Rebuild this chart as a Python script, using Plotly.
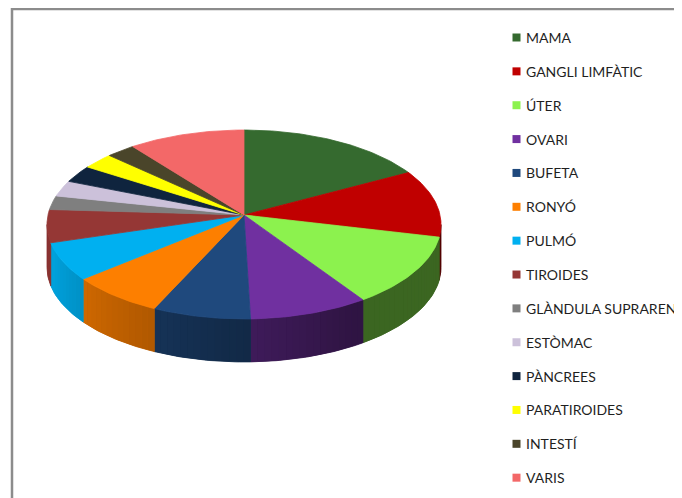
import numpy as np
import plotly.graph_objects as go

# ---- data ----
categories = ["MAMA", "GANGLI LIMFÀTIC", "ÚTER", "OVARI", "BUFETA", "RONYÓ", "PULMÓ",
              "TIROIDES", "GLÀNDULA SUPRARENAL", "ESTÒMAC", "PÀNCREES", "PARATIROIDES",
              "INTESTÍ", "VARIS"]
values = [17.1, 11.6, 11.9, 8.9, 7.3, 7.1, 6.4, 5.6, 2.4, 2.75, 3.0, 2.8, 2.6, 10.5]
colors = ["#356a2f", "#c00000", "#8cf24e", "#7030a0", "#1f497d", "#fd7f00", "#00b0f0",
          "#953735", "#7f7f7f", "#ccc1da", "#0f243e", "#ffff00", "#4a452a", "#f36868"]

# ---- 3D pie geometry (layout, in page-pixel axis units) ----
PAGE_W, PAGE_H = 682, 498
OFF = 8                    # page body margin; axis units = page pixels
W, H = PAGE_W - OFF, PAGE_H - OFF
CX, CY = 244, 215          # apex of the pie top
FX, GY, E = 196, 93.5, 0.1005
DEPTH = 43
VIS0, VIS1 = 95.8, 264.2   # visible part of the outer wall (degrees, clockwise from 12 o'clock)


def proj(theta_deg, drop=0.0):
    t = np.radians(theta_deg)
    s, c = np.sin(t), np.cos(t)
    d = 1 + E * c
    return CX + FX * s / d, CY - GY * c / d + drop


def shade(hexcol, f):
    h = hexcol.lstrip("#")
    r, g, b = (int(h[i:i + 2], 16) for i in (0, 2, 4))
    return "rgb(%d,%d,%d)" % (round(r * f), round(g * f), round(b * f))


def wall_factor(theta):
    return float(np.clip(0.42 + 0.005 * (theta - 150), 0.42, 0.92))


def wall_poly(ta, tb, npts):
    th = np.linspace(ta, tb, npts)
    xt, yt = proj(th)
    xb, yb = proj(th[::-1], DEPTH)
    return (np.concatenate([xt, xb, xt[:1]]), np.concatenate([yt, yb, yt[:1]]))


total = float(sum(values))
ends = np.cumsum(values) / total * 360.0
starts = np.concatenate([[0.0], ends[:-1]])

fig = go.Figure()

# outer walls (drawn first): solid base per slice, then shaded strips
for i, (a0, a1) in enumerate(zip(starts, ends)):
    lo, hi = max(a0, VIS0), min(a1, VIS1)
    if hi <= lo:
        continue
    xs, ys = wall_poly(lo, hi, max(3, int(np.ceil(hi - lo)) + 1))
    base = shade(colors[i], wall_factor((lo + hi) / 2))
    fig.add_trace(go.Scatter(x=xs, y=ys, mode="lines", fill="toself",
                             fillcolor=base, line=dict(color=base, width=0.8),
                             hoverinfo="skip", showlegend=False))
    n = max(1, int(np.ceil((hi - lo) / 2.0)))
    edges = np.linspace(lo, hi, n + 1)
    for ta, tb in zip(edges[:-1], edges[1:]):
        xs, ys = wall_poly(ta, tb, 4)
        col = shade(colors[i], wall_factor((ta + tb) / 2))
        fig.add_trace(go.Scatter(x=xs, y=ys, mode="lines", fill="toself",
                                 fillcolor=col, line=dict(width=0),
                                 hoverinfo="skip", showlegend=False))

# top faces
for i, (a0, a1) in enumerate(zip(starts, ends)):
    th = np.linspace(a0, a1, max(3, int(np.ceil(a1 - a0)) + 1))
    xa, ya = proj(th)
    xs = np.concatenate([[CX], xa, [CX]])
    ys = np.concatenate([[CY], ya, [CY]])
    fig.add_trace(go.Scatter(x=xs, y=ys, mode="lines", fill="toself",
                             fillcolor=colors[i], line=dict(color=colors[i], width=0.8),
                             hoverinfo="skip", showlegend=False, name=categories[i]))

# legend (squares + labels)
LEG_X, LEG_Y0, LEG_DY = 516.5, 37.5, 33.86
leg_y = [LEG_Y0 + k * LEG_DY for k in range(len(categories))]
fig.add_trace(go.Scatter(x=[LEG_X] * len(categories), y=leg_y, mode="markers",
                         marker=dict(symbol="square", size=8, color=colors, line=dict(width=0)),
                         hoverinfo="skip", showlegend=False))
for k, name in enumerate(categories):
    fig.add_annotation(x=LEG_X + 7.5, y=leg_y[k], text=name, showarrow=False,
                       xanchor="left", yanchor="middle", xref="x", yref="y",
                       font=dict(family="Lato", size=14, color="#1f1f1f"))

# chart-area border
fig.add_shape(type="rect", xref="x", yref="y", x0=12, y0=9, x1=PAGE_W + 40, y1=PAGE_H + 40,
              line=dict(color="#8c8c8c", width=2.5), fillcolor="rgba(0,0,0,0)", layer="above")

fig.update_layout(
    width=W, height=H, margin=dict(l=0, r=0, t=0, b=0),
    paper_bgcolor="white", plot_bgcolor="white", showlegend=False,
    xaxis=dict(range=[OFF, OFF + W], visible=False, fixedrange=True),
    yaxis=dict(range=[OFF + H, OFF], visible=False, fixedrange=True),
    hovermode=False,
)

fig.write_html("out.html")
